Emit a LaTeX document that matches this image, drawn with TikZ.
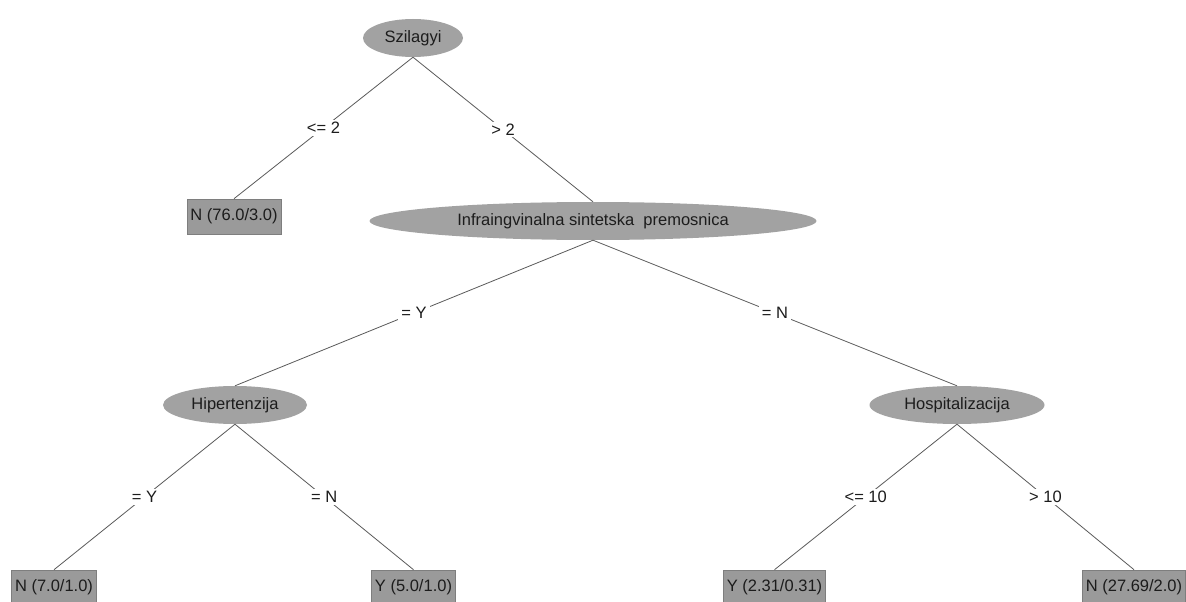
\documentclass[tikz,border=0pt]{standalone}
\usepackage{fontspec}
\setmainfont{Liberation Sans}
\usetikzlibrary{shapes.geometric}
\definecolor{nodegray}{HTML}{A2A2A2}
\definecolor{leafgray}{HTML}{9A9A9A}
\definecolor{leafborder}{HTML}{7E7E7E}
\definecolor{edgegray}{HTML}{5A5A5A}
\definecolor{txt}{HTML}{1C1C1C}
\tikzset{
  every node/.style={font=\fontsize{16.5}{19}\selectfont, text=txt},
  split/.style={ellipse, fill=nodegray, draw=none, inner sep=0pt},
  leaf/.style={rectangle, fill=leafgray, draw=leafborder, line width=0.6pt, minimum height=35pt, inner xsep=3.5pt, inner ysep=0pt},
  edge/.style={draw=edgegray, line width=0.8pt},
  elabel/.style={fill=white, inner xsep=3pt, inner ysep=2pt}
}
\begin{document}
\begin{tikzpicture}[x=1pt,y=1pt]
\clip (0,0) rectangle (1186,-602);
\fill[white] (0,0) rectangle (1186,-602);
% split nodes
\node[split, minimum width=100pt, minimum height=38pt] (szi) at (413,-38) {Szilagyi};
\node[split, minimum width=447pt, minimum height=38pt] (inf) at (593,-221) {Infraingvinalna sintetska\ \ premosnica};
\node[split, minimum width=144pt, minimum height=38pt] (hip) at (235,-405) {Hipertenzija};
\node[split, minimum width=175pt, minimum height=38pt] (hos) at (957,-405) {Hospitalizacija};
% leaves
\node[leaf] (l1) at (234,-216.5) {N (76.0/3.0)};
\node[leaf] (l2) at (54,-587.5) {N (7.0/1.0)};
\node[leaf] (l3) at (413.5,-587.5) {Y (5.0/1.0)};
\node[leaf] (l4) at (774.5,-587.5) {Y (2.31/0.31)};
\node[leaf] (l5) at (1134,-587.5) {N (27.69/2.0)};
% edges
\draw[edge] (szi.south) -- node[elabel] (e1) {<= 2} (l1.north);
\draw[edge] (szi.south) -- node[elabel] (e2) {> 2} (inf.north);
\draw[edge] (inf.south) -- node[elabel] (e3) {= Y} (hip.north);
\draw[edge] (inf.south) -- node[elabel] (e4) {= N} (hos.north);
\draw[edge] (hip.south) -- node[elabel] (e5) {= Y} (l2.north);
\draw[edge] (hip.south) -- node[elabel] (e6) {= N} (l3.north);
\draw[edge] (hos.south) -- node[elabel] (e7) {<= 10} (l4.north);
\draw[edge] (hos.south) -- node[elabel] (e8) {> 10} (l5.north);
\end{tikzpicture}
\end{document}
